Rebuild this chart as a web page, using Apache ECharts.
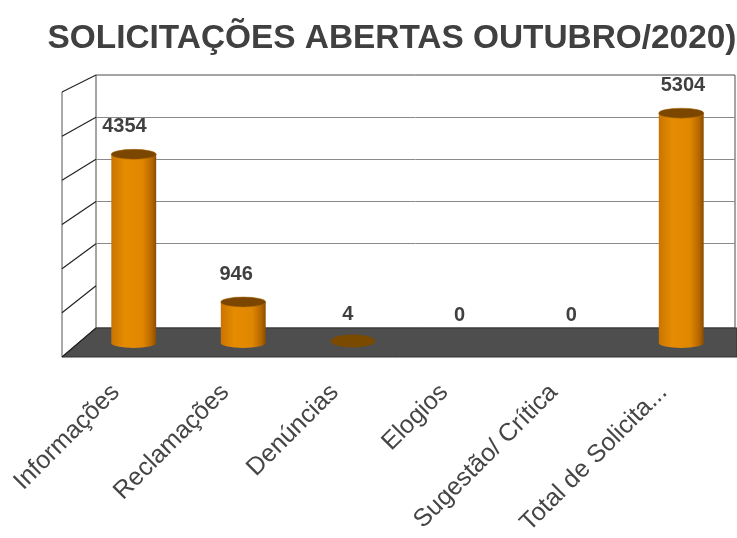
<!DOCTYPE html>
<html>
<head>
<meta charset="utf-8">
<script src="https://cdn.jsdelivr.net/npm/echarts@6/dist/echarts.min.js"></script>
<style>
  html, body { margin: 0; padding: 0; background: #fff; }
  #main { width: 737px; height: 538px; }
</style>
</head>
<body>
<div id="main"></div>
<script>
// dados do gráfico
const categories = ['Informações', 'Reclamações', 'Denúncias', 'Elogios', 'Sugestão/ Crítica', 'Total de Solicita...'];
const values = [4354, 946, 4, 0, 0, 5304];
const yTicks = [0, 1000, 2000, 3000, 4000, 5000, 6000];

document.addEventListener('DOMContentLoaded', function() {
  var chart = echarts.init(document.getElementById('main'));

  // parede lateral + piso (a partir das coordenadas do eixo da parede)
  function renderWall(params, api) {
    const v = api.value(0);
    const p = api.coord([0, v]);
    const p0 = api.coord([0, 0]);
    const pTop = api.coord([0, 6000]);
    const p1 = api.coord([1, 0]);
    const depth = 34;
    const dy = function(val) { return 29 - 12 * val / 6000; };
    const children = [];
    if (v === 0) {
      children.push({
        type: 'polygon',
        shape: { points: [[p0[0], p0[1]], [p1[0] + 2, p1[1]], [p1[0] + 2, p1[1] + dy(0)], [p0[0] - depth, p0[1] + dy(0)]] },
        style: { fill: '#4e4e4e', stroke: '#333', lineWidth: 1 }
      });
      children.push({
        type: 'line',
        shape: { x1: p0[0] - depth, y1: pTop[1] + dy(6000), x2: p0[0] - depth, y2: p0[1] + dy(0) },
        style: { stroke: '#555', lineWidth: 1 }
      });
    }
    children.push({
      type: 'line',
      shape: { x1: p[0], y1: p[1], x2: p[0] - depth, y2: p[1] + dy(v) },
      style: { stroke: '#222', lineWidth: 1.2 }
    });
    return { type: 'group', children: children };
  }

  // cilindros
  function renderBar(params, api) {
    const idx = api.value(0);
    const v = api.value(1);
    const base = api.coord([idx, 0]);
    const top = api.coord([idx, v]);
    const band = api.size([1, 0])[0];
    const x = base[0];
    const rx = band * 0.205;
    const ry = 5;
    const cs = params.coordSys;
    const children = [];
    const grad = new echarts.graphic.LinearGradient(0, 0, 1, 0, [
      { offset: 0, color: '#c97400' },
      { offset: 0.3, color: '#e68c02' },
      { offset: 0.7, color: '#e08700' },
      { offset: 0.9, color: '#b56600' },
      { offset: 1, color: '#8a4d00' }
    ]);
    if (v > 0 && base[1] - top[1] < 2) {
      children.push({
        type: 'circle', shape: { cx: 0, cy: 0, r: rx },
        x: x, y: base[1] - 2, scaleY: 6.5 / rx,
        style: { fill: '#7a4a00' }
      });
    } else if (v > 0) {
      children.push({
        type: 'circle', shape: { cx: 0, cy: 0, r: rx },
        x: x, y: base[1], scaleY: ry / rx,
        style: { fill: grad }
      });
      children.push({
        type: 'rect',
        shape: { x: x - rx, y: top[1], width: rx * 2, height: base[1] - top[1] },
        style: { fill: grad }
      });
      children.push({
        type: 'circle', shape: { cx: 0, cy: 0, r: rx },
        x: x, y: top[1], scaleY: ry / rx,
        style: { fill: '#7b4700', stroke: '#a86400', lineWidth: 0.8 }
      });
    }
    const refX = cs.x + cs.width * 0.79;
    children.push({
      type: 'text',
      x: x + (x - refX) * 0.02,
      y: top[1] - 28,
      style: {
        text: String(v),
        fill: '#404040',
        font: 'bold 20px "Liberation Sans", Arial, sans-serif',
        align: 'center',
        verticalAlign: 'middle'
      }
    });
    return { type: 'group', children: children };
  }

  var option = {
    animation: false,
    title: {
      text: 'SOLICITAÇÕES ABERTAS OUTUBRO/2020)',
      left: 387,
      textAlign: 'center',
      top: 17,
      textStyle: {
        fontFamily: '"Liberation Sans", Arial, sans-serif',
        fontSize: 33.4,
        fontWeight: 'bold',
        color: '#404040'
      }
    },
    grid: [
      // parede do fundo
      { left: 96, right: 2, top: 75, bottom: 210, show: true, borderColor: '#4a4a4a', borderWidth: 1, backgroundColor: '#fff' },
      // barras
      { left: 79, right: 1, top: 83, bottom: 195 },
      // rótulos do eixo
      { left: 61, right: 19, top: 83, bottom: 195 }
    ],
    xAxis: [
      { gridIndex: 0, type: 'value', min: 0, max: 1, show: false },
      { gridIndex: 1, type: 'category', data: categories, show: false },
      {
        gridIndex: 2, type: 'category', data: categories,
        axisLine: { show: false }, axisTick: { show: false },
        axisLabel: {
          rotate: 45, margin: 55, interval: 0,
          fontFamily: '"Liberation Sans", Arial, sans-serif',
          fontSize: 25, color: '#454545'
        }
      }
    ],
    yAxis: [
      {
        gridIndex: 0, type: 'value', min: 0, max: 6000, interval: 1000,
        axisLine: { show: false }, axisTick: { show: false }, axisLabel: { show: false },
        splitLine: { show: true, lineStyle: { color: ['transparent', 'transparent', '#8a8a8a', '#8a8a8a', '#8a8a8a', '#8a8a8a', 'transparent'], width: 1 } }
      },
      { gridIndex: 1, type: 'value', min: 0, max: 6000, show: false, splitLine: { show: false } },
      { gridIndex: 2, type: 'value', min: 0, max: 6000, show: false, splitLine: { show: false } }
    ],
    series: [
      {
        type: 'custom', xAxisIndex: 0, yAxisIndex: 0, z: 1,
        renderItem: renderWall,
        data: yTicks.map(function(t) { return [t]; }),
        encode: { y: 0 }
      },
      {
        type: 'custom', xAxisIndex: 1, yAxisIndex: 1, z: 5,
        renderItem: renderBar,
        data: values.map(function(v, i) { return [i, v]; }),
        encode: { x: 0, y: 1 }
      }
    ]
  };

  chart.setOption(option);

  window.addEventListener('resize', function() {
    if (chart) chart.resize();
  });
});
</script>
</body>
</html>
